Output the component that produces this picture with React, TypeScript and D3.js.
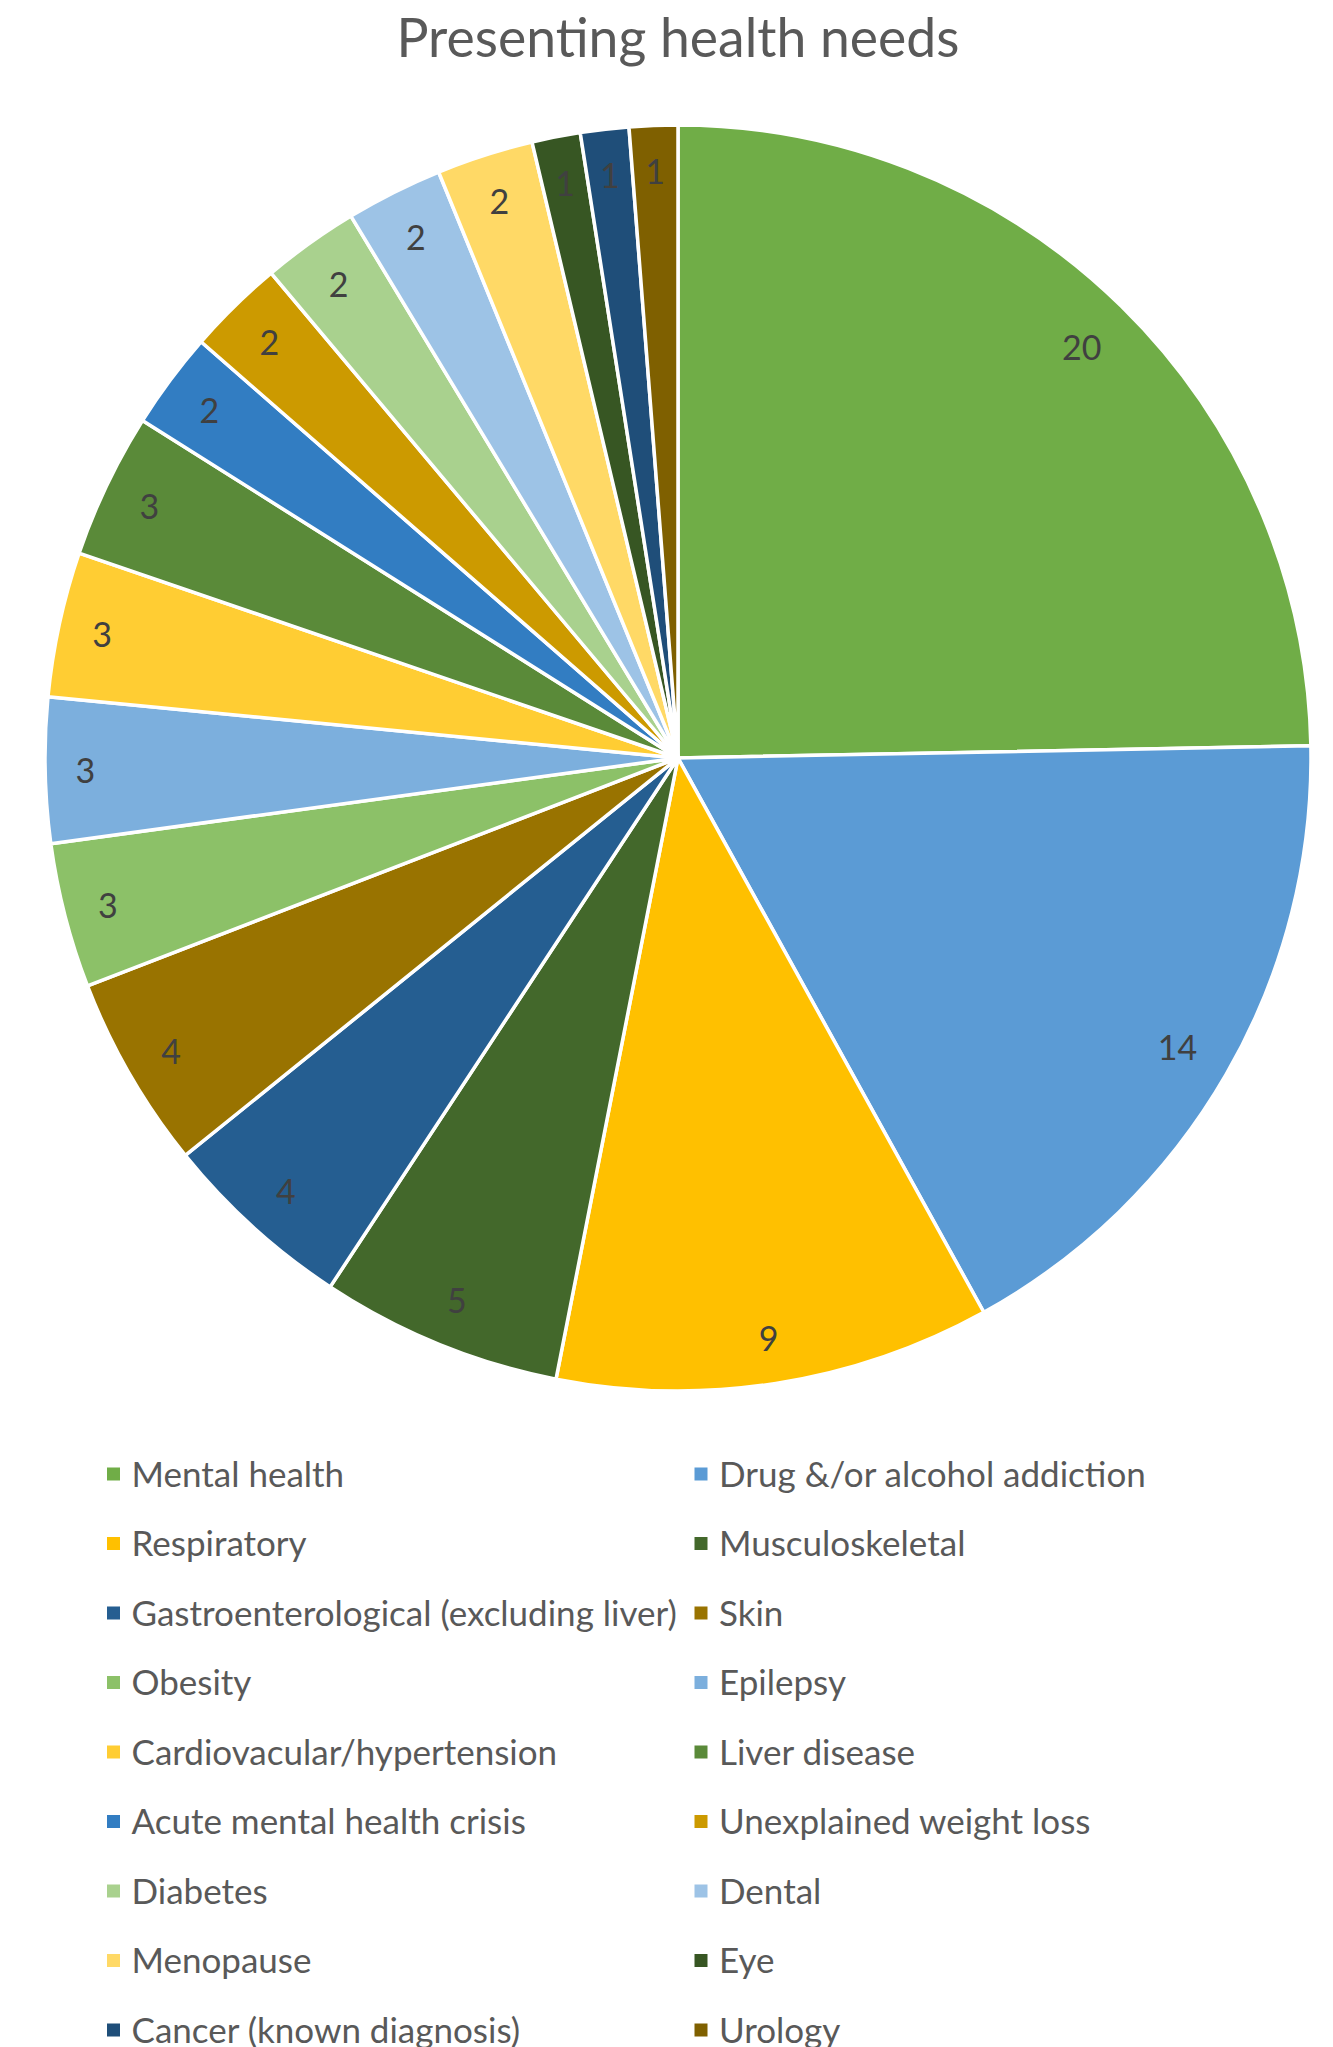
import React from 'react';
import * as d3 from 'd3';

const title = 'Presenting health needs';

const categories = [
  'Mental health',
  'Drug &/or alcohol addiction',
  'Respiratory',
  'Musculoskeletal',
  'Gastroenterological (excluding liver)',
  'Skin',
  'Obesity',
  'Epilepsy',
  'Cardiovacular/hypertension',
  'Liver disease',
  'Acute mental health crisis',
  'Unexplained weight loss',
  'Diabetes',
  'Dental',
  'Menopause',
  'Eye',
  'Cancer (known diagnosis)',
  'Urology',
];

const values = [20, 14, 9, 5, 4, 4, 3, 3, 3, 3, 2, 2, 2, 2, 2, 1, 1, 1];

const colors = [
  '#70AD47', '#5B9BD5', '#FFC000',
  '#43682B', '#255E91', '#997300',
  '#8CC168', '#7CAFDD', '#FFCD33',
  '#5A8A39', '#327DC2', '#CC9A00',
  '#A9D18E', '#9DC3E6', '#FFD966',
  '#375623', '#1F4E79', '#7F6000',
];

const FONT = 'Lato, "Open Sans", "Noto Sans", sans-serif';

export default function App() {
  const W = 1333;
  const H = 2047;
  const cx = 678;
  const cy = 758;
  const R = 633;

  const pie = d3.pie<number>().sort(null).value((d) => d);
  const arcs = pie(values);
  const arcGen = d3
    .arc<d3.PieArcDatum<number>>()
    .innerRadius(0)
    .outerRadius(R);

  const labelSize = 34;
  const digitW = labelSize * 0.58;
  const labelPos = (a: d3.PieArcDatum<number>) => {
    const th = (a.startAngle + a.endAngle) / 2;
    const txt = String(a.value);
    const w = txt.length * digitW + 12;
    const h = 40;
    const r = R - 24 - Math.abs(Math.sin(th)) * (w / 2) - Math.abs(Math.cos(th)) * (h / 2);
    return [cx + r * Math.sin(th), cy - r * Math.cos(th)];
  };

  const rowY = d3.scaleLinear().domain([0, 1]).range([1474, 1474 + 69.5]);
  const colX = [113.5, 701];
  const marker = 13;

  return (
    <div style={{ position: 'absolute', left: 0, top: 0, width: W, height: H, background: '#fff' }}>
      <svg width={W} height={H} style={{ display: 'block' }} fontFamily={FONT}>
        <rect x={0} y={0} width={W} height={H} fill="#ffffff" />
        <text x={cx} y={57} textAnchor="middle" fontSize={53.5} fill="#595959">
          {title}
        </text>
        <g>
          {arcs.map((a, i) => (
            <path
              key={i}
              d={arcGen(a) as string}
              transform={`translate(${cx},${cy})`}
              fill={colors[i]}
              stroke="#ffffff"
              strokeWidth={3.5}
              strokeLinejoin="round"
            />
          ))}
        </g>
        <g>
          {arcs.map((a, i) => {
            const [x, y] = labelPos(a);
            return (
              <text
                key={i}
                x={x}
                y={y}
                textAnchor="middle"
                dominantBaseline="central"
                fontSize={labelSize}
                fill="#404040"
              >
                {a.value}
              </text>
            );
          })}
        </g>
        <g>
          {categories.map((c, i) => {
            const col = i % 2;
            const row = Math.floor(i / 2);
            const y = rowY(row);
            const x = colX[col];
            return (
              <g key={c}>
                <rect
                  x={x - marker / 2}
                  y={y - marker / 2}
                  width={marker}
                  height={marker}
                  fill={colors[i]}
                />
                <text
                  x={x + 18}
                  y={y}
                  dy="0.36em"
                  fontSize={35}
                  fill="#595959"
                >
                  {c}
                </text>
              </g>
            );
          })}
        </g>
      </svg>
    </div>
  );
}
